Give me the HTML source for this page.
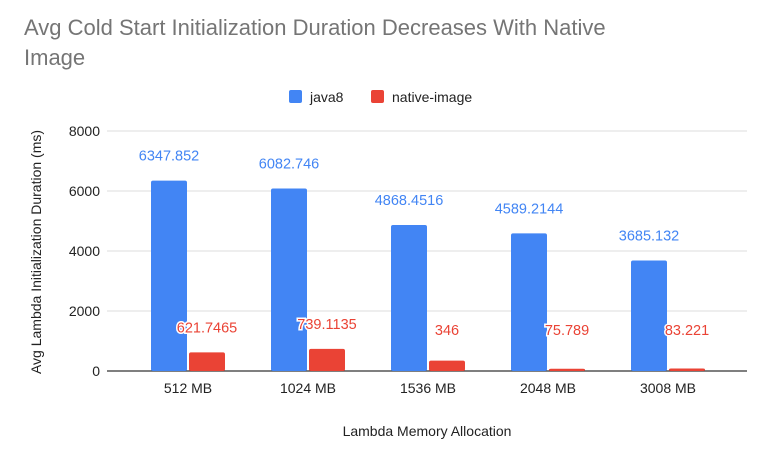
<!DOCTYPE html>
<html><head><meta charset="utf-8"><style>
body{margin:0;background:#fff;font-family:"Liberation Sans",Arial,sans-serif}
svg{display:block}
</style></head><body>
<svg width="773" height="450" viewBox="0 0 773 450">
<text x="24" y="35" font-size="22" fill="#757575">Avg Cold Start Initialization Duration Decreases With Native</text>
<text x="24" y="65" font-size="22" fill="#757575">Image</text>
<g>
<rect x="289" y="90" width="13" height="13" rx="2" fill="#4285f4"/>
<text x="310" y="102" font-size="14" fill="#222">java8</text>
<rect x="371" y="90" width="13" height="13" rx="2" fill="#ea4335"/>
<text x="392" y="102" font-size="14" fill="#222">native-image</text>
</g>
<g id="grid"></g><g id="bars"></g><g id="labels"></g>
<text transform="translate(41,252) rotate(-90)" text-anchor="middle" font-size="14" fill="#222">Avg Lambda Initialization Duration (ms)</text>
<text x="427" y="436" text-anchor="middle" font-size="14" fill="#222">Lambda Memory Allocation</text>
</svg>
<script>
const categories=["512 MB","1024 MB","1536 MB","2048 MB","3008 MB"];
const java8=[6347.852,6082.746,4868.4516,4589.2144,3685.132];
const nativeImage=[621.7465,739.1135,346,75.789,83.221];
const yTicks=[0,2000,4000,6000,8000];
const NS="http://www.w3.org/2000/svg";
const y0=371,yTop=131,yMax=8000,left=128,band=120,bw=36;
const Y=v=>y0-(v/yMax)*(y0-yTop);
const X=i=>left+band*i+band/2;
function mk(t,a,p){const e=document.createElementNS(NS,t);for(const k in a)e.setAttribute(k,a[k]);document.getElementById(p).appendChild(e);return e;}
yTicks.forEach(t=>{
 const l=mk('line',{x1:107,x2:747,y1:Y(t),y2:Y(t),stroke:t===0?'#333':'#ddd','stroke-width':t===0?1.3:1},'grid');
 
 
 const tx=mk('text',{x:100,y:Y(t)+5,'text-anchor':'end','font-size':14,fill:'#222'},'grid');
 tx.textContent=t;
 
 
});
categories.forEach((c,i)=>{
 const cx=X(i);
 const b=mk('rect',{x:cx-bw-1,y:Y(java8[i]),width:bw,height:y0-Y(java8[i]),rx:2,fill:'#4285f4'},'bars');
 
 
 const r=mk('rect',{x:cx+1,y:Y(nativeImage[i]),width:bw,height:y0-Y(nativeImage[i]),rx:2,fill:'#ea4335'},'bars');
 
 
 const bl=mk('text',{x:cx-bw/2-1,y:Y(java8[i])-20,'text-anchor':'middle','font-size':14.5,fill:'#4285f4'},'labels');
 bl.textContent=java8[i];
 
 
 const rl=mk('text',{x:cx+bw/2+1,y:Math.min(Y(nativeImage[i])-20,335),'text-anchor':'middle','font-size':14.5,fill:'#ea4335',stroke:'#fff','stroke-width':3,'paint-order':'stroke'},'labels');
 rl.textContent=nativeImage[i];
 
 
 const xl=mk('text',{x:cx,y:393,'text-anchor':'middle','font-size':14,fill:'#222'},'labels');
 xl.textContent=c;
 
 
});
</script>
</body></html>
